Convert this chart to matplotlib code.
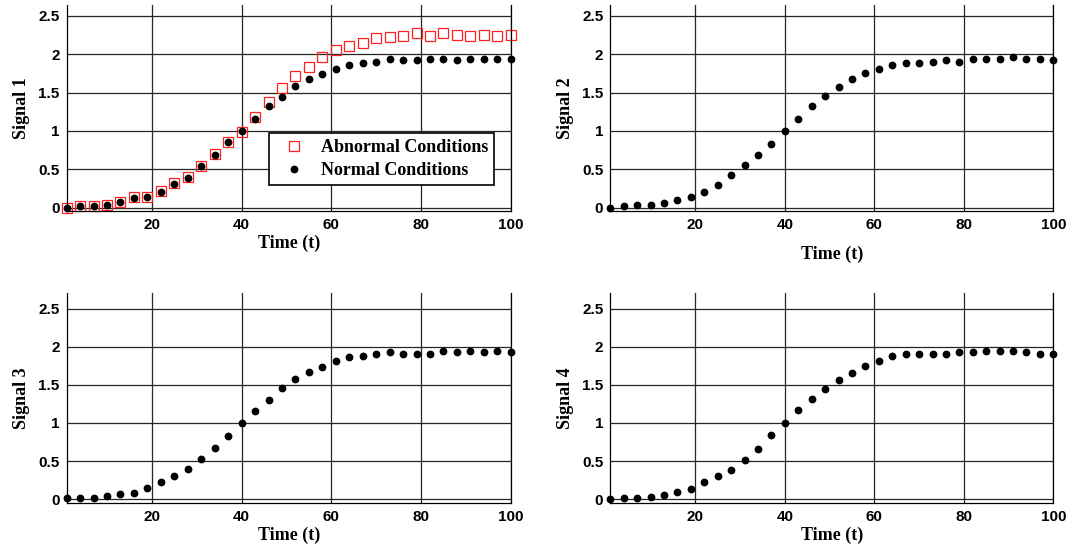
import matplotlib

matplotlib.use("Agg")
import matplotlib.pyplot as plt

# time samples (every 3 units)
t = list(range(1, 101, 3))

sig1_normal = [0.00, 0.02, 0.02, 0.04, 0.07, 0.13, 0.14, 0.21, 0.31, 0.39, 0.54, 0.69,
               0.86, 1.00, 1.15, 1.32, 1.44, 1.58, 1.68, 1.74, 1.80, 1.86, 1.89, 1.90,
               1.93, 1.92, 1.92, 1.94, 1.94, 1.92, 1.93, 1.93, 1.94, 1.94]
sig1_abnormal = [0.00, 0.02, 0.02, 0.04, 0.07, 0.14, 0.14, 0.22, 0.32, 0.40, 0.54, 0.70,
                 0.86, 0.99, 1.18, 1.38, 1.56, 1.72, 1.83, 1.96, 2.05, 2.10, 2.15, 2.21,
                 2.22, 2.23, 2.27, 2.23, 2.27, 2.25, 2.23, 2.25, 2.23, 2.25]
sig2_normal = [0.00, 0.02, 0.04, 0.04, 0.06, 0.10, 0.14, 0.20, 0.30, 0.42, 0.55, 0.69,
               0.83, 1.00, 1.16, 1.32, 1.45, 1.57, 1.67, 1.76, 1.80, 1.86, 1.88, 1.89,
               1.90, 1.92, 1.90, 1.93, 1.93, 1.94, 1.96, 1.93, 1.94, 1.92]
sig3_normal = [0.01, 0.02, 0.02, 0.04, 0.07, 0.08, 0.15, 0.22, 0.30, 0.40, 0.53, 0.67,
               0.83, 1.00, 1.16, 1.30, 1.46, 1.57, 1.67, 1.74, 1.81, 1.86, 1.88, 1.91,
               1.93, 1.91, 1.91, 1.91, 1.94, 1.93, 1.94, 1.93, 1.94, 1.93]
sig4_normal = [0.00, 0.02, 0.02, 0.03, 0.05, 0.09, 0.14, 0.22, 0.30, 0.39, 0.52, 0.66,
               0.84, 1.00, 1.17, 1.31, 1.44, 1.56, 1.66, 1.75, 1.81, 1.88, 1.90, 1.91,
               1.90, 1.91, 1.93, 1.93, 1.94, 1.94, 1.94, 1.93, 1.91, 1.91]

signals = [sig1_normal, sig2_normal, sig3_normal, sig4_normal]
ylabels = ["Signal 1", "Signal 2", "Signal 3", "Signal 4"]
xticks = [20, 40, 60, 80, 100]
yticks = [0, 0.5, 1, 1.5, 2, 2.5]
ytick_labels = ["0", "0.5", "1", "1.5", "2", "2.5"]

SERIF = {"family": "Liberation Serif", "weight": "bold", "size": 13}

fig = plt.figure(figsize=(10.72, 5.47), dpi=100)
rects = [
    [0.0622, 0.6143, 0.4142, 0.3766],
    [0.5693, 0.6143, 0.4133, 0.3766],
    [0.0622, 0.0810, 0.4142, 0.3828],
    [0.5693, 0.0810, 0.4133, 0.3828],
]
ylims = [(-0.043, 2.64), (-0.043, 2.64), (-0.045, 2.70), (-0.045, 2.70)]

for i, rect in enumerate(rects):
    ax = fig.add_axes(rect)
    if i == 0:
        ax.plot(t, sig1_abnormal, ls="none", marker="s", ms=7.8, mfc="none",
                mec="#ff2020", mew=0.9, label="Abnormal Conditions", clip_on=False)
    ax.plot(t, signals[i], ls="none", marker="o", ms=4.6, color="black",
            label="Normal Conditions", clip_on=False, zorder=3)

    ax.set_xlim(1, 100)
    ax.set_ylim(*ylims[i])
    ax.set_xticks(xticks)
    ax.set_yticks(yticks)
    ax.set_yticklabels(ytick_labels)
    ax.tick_params(length=0, pad=5)
    for lab in ax.get_xticklabels() + ax.get_yticklabels():
        lab.set_fontfamily("Liberation Sans")
        lab.set_fontweight("bold")
        lab.set_fontsize(11)
    ax.grid(True, color="0.15", lw=0.9)
    ax.set_axisbelow(True)
    ax.spines["top"].set_visible(False)
    for s in ("left", "right", "bottom"):
        ax.spines[s].set_color("black")
        ax.spines[s].set_linewidth(0.9)

    ax.set_xlabel("Time (t)", fontdict=SERIF, labelpad=2 if i != 1 else 10)
    ax.set_ylabel(ylabels[i], fontdict=SERIF, labelpad=6)

    if i == 0:
        leg = ax.legend(loc="lower left", bbox_to_anchor=(0.456, 0.125),
                        prop={"family": "Liberation Serif", "weight": "bold", "size": 13},
                        frameon=True, fancybox=False, framealpha=1, edgecolor="black",
                        handlelength=2.0, handletextpad=0.5, borderpad=0.35,
                        labelspacing=0.3, borderaxespad=0)
        leg.get_frame().set_linewidth(1.2)

fig.savefig("out.png", dpi=100)
